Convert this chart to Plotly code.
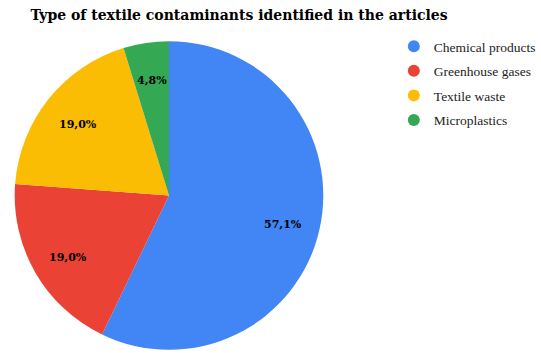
import math
import plotly.graph_objects as go

# Share of contaminant types found across the reviewed articles
categories = ["Chemical products", "Greenhouse gases", "Textile waste", "Microplastics"]
article_counts = [12, 4, 4, 1]
colors = ["#4285F4", "#EA4335", "#FBBC04", "#34A853"]

W, H = 541, 353
serif = "Liberation Serif, Times New Roman, serif"
wide_serif = "DejaVu Serif, serif"

# pie placement in pixels (centre and radius)
cx, cy, R = 172.5, 195.5, 157.5
dom_x = [(cx - R) / W, (cx + R) / W]
dom_y = [1 - (cy + R) / H, 1 - (cy - R) / H]

fig = go.Figure()

fig.add_trace(go.Pie(
    labels=categories,
    values=article_counts,
    sort=False,
    direction="clockwise",
    rotation=0,
    marker=dict(colors=colors, line=dict(width=0)),
    textinfo="none",
    showlegend=False,
    hoverinfo="label+percent",
    domain=dict(x=dom_x, y=dom_y),
))

# Percentage labels placed along each slice's bisector
total = sum(article_counts)
start = 0.0
for v in article_counts:
    frac = v / total
    mid = (start + frac / 2) * 2 * math.pi
    start += frac
    r = 0.755 * R
    px = cx + r * math.sin(mid)
    py = cy - r * math.cos(mid)
    label = f"{frac * 100:.1f}%".replace(".", ",")
    fig.add_annotation(
        x=px / W, y=1 - py / H, xref="paper", yref="paper",
        xanchor="center", yanchor="middle",
        text=f"<b>{label}</b>", showarrow=False, yshift=-3,
        font=dict(family=wide_serif, size=11, color="#000000"),
    )

# Legend entries with round markers
for name, c in zip(categories, colors):
    fig.add_trace(go.Scatter(
        x=[None], y=[None], mode="markers", name=name, legendgroup=name,
        marker=dict(symbol="circle", size=12, color=c),
        showlegend=True, hoverinfo="skip",
    ))

fig.update_layout(
    width=W, height=H,
    margin=dict(l=0, r=0, t=0, b=0),
    paper_bgcolor="white", plot_bgcolor="white",
    title=dict(
        text="<b>Type of textile contaminants identified in the articles</b>",
        x=239 / W, xanchor="center", y=1 - 15 / H, yanchor="middle",
        font=dict(family=wide_serif, size=14, color="#000000"),
    ),
    legend=dict(
        x=402 / W, xanchor="left", y=1 - 31 / H, yanchor="top",
        font=dict(family=serif, size=13.5, color="#222222"),
        tracegroupgap=4, itemwidth=30, bgcolor="rgba(0,0,0,0)",
    ),
    xaxis=dict(visible=False), yaxis=dict(visible=False),
)

fig.write_html("out.html")
